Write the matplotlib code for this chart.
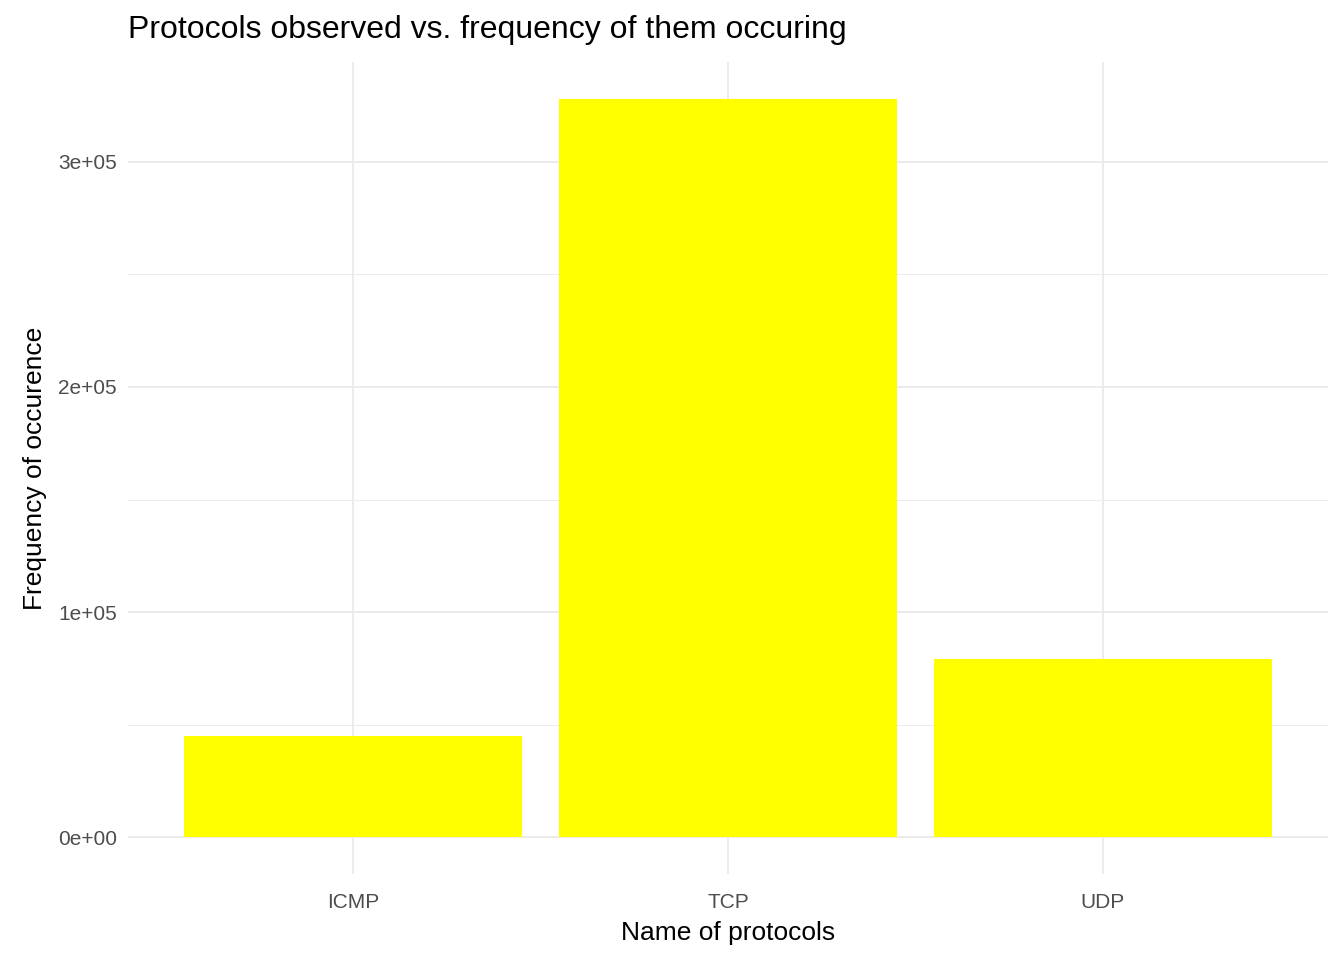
import matplotlib
matplotlib.use("Agg")
import matplotlib.pyplot as plt
from matplotlib.ticker import FixedLocator

protocols = ["ICMP", "TCP", "UDP"]
counts = [44900, 328000, 79100]
ytick_vals = [0, 100000, 200000, 300000]
ytick_labels = ["0e+00", "1e+05", "2e+05", "3e+05"]

plt.rcParams['font.family'] = ['Liberation Sans', 'DejaVu Sans']
fig = plt.figure(figsize=(13.44, 9.6), dpi=100)
ax = fig.add_axes([128/1344, (960-874)/960, 1200/1344, (874-62)/960])
x = list(range(1, len(protocols)+1))
ax.bar(x, counts, width=0.9, color="#FFFF00", zorder=2)
ax.set_xlim(0.4, 3.6)
top = max(counts)
ax.set_ylim(-0.05*top, 1.05*top)
ax.set_xticks(x)
ax.set_xticklabels(protocols)
ax.set_yticks(ytick_vals)
ax.set_yticklabels(ytick_labels)
ax.yaxis.set_minor_locator(FixedLocator([50000, 150000, 250000]))
ax.grid(True, which="major", color="#EBEBEB", linewidth=1.4, zorder=0)
ax.grid(True, which="minor", axis="y", color="#EBEBEB", linewidth=0.7, zorder=0)
for s in ax.spines.values():
    s.set_visible(False)
ax.tick_params(axis="both", which="both", length=0, labelsize=15, labelcolor="#4D4D4D", pad=8)
ax.tick_params(axis="x", pad=14)
ax.set_xlabel("Name of protocols", fontsize=19, labelpad=6)
ax.set_ylabel("Frequency of occurence", fontsize=19, labelpad=8)
fig.text(128/1344, 1-30/960, "Protocols observed vs. frequency of them occuring", fontsize=23, va="center", ha="left")
fig.savefig("out.png", dpi=100)
